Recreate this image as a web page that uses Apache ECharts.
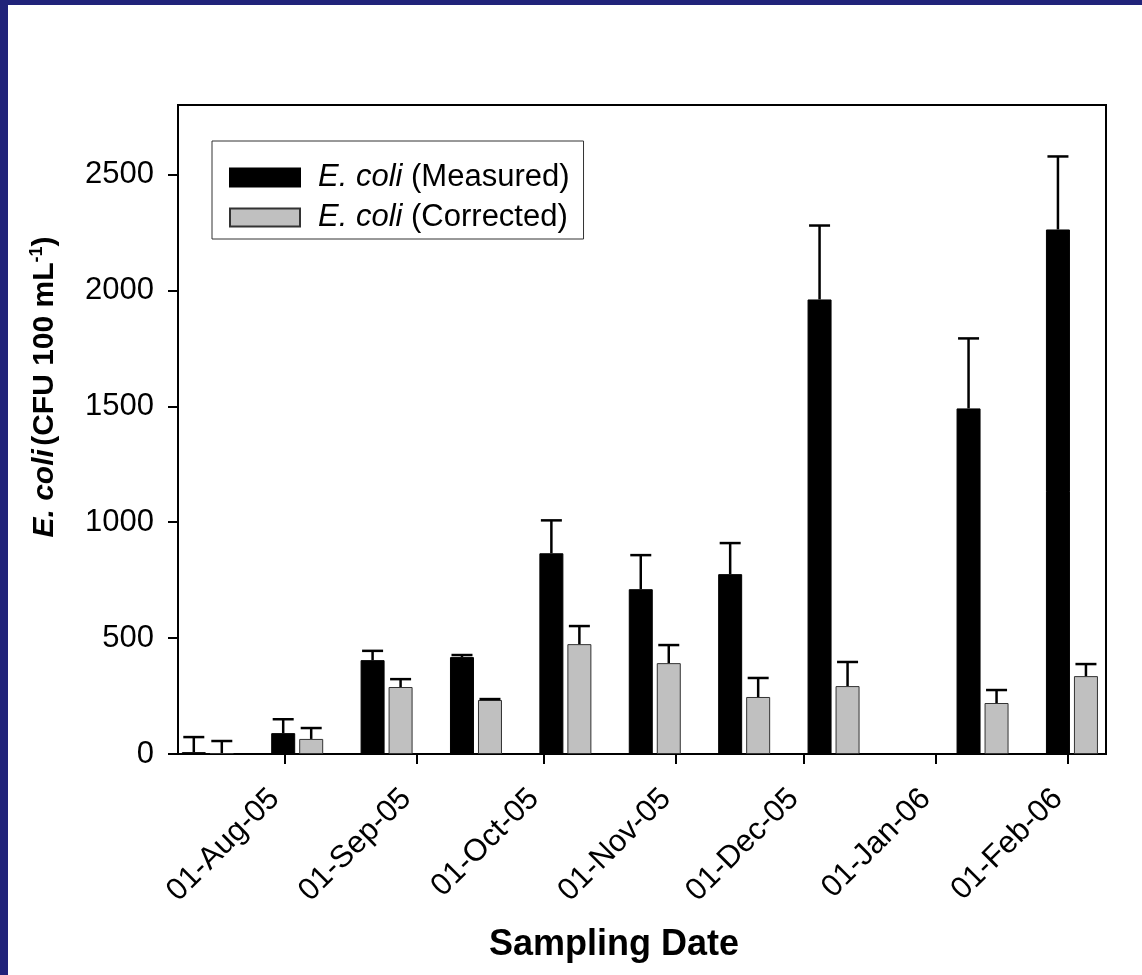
<!DOCTYPE html>
<html><head><meta charset="utf-8">
<script src="https://cdn.jsdelivr.net/npm/echarts@6/dist/echarts.min.js"></script>
<style>
html,body{margin:0;padding:0;background:#fff;}
#frame{position:absolute;left:0;top:0;width:1142px;height:975px;box-sizing:border-box;border-left:8px solid #21237a;border-top:5px solid #21237a;background:#fff;}
#chart{position:absolute;left:0;top:0;width:1142px;height:975px;}
</style></head><body>
<div id="frame"></div><div id="chart"></div>
<script>
// ---- data ----
const sampleDates = ['2005-07-14','2005-08-04','2005-08-25','2005-09-15','2005-10-06','2005-10-27','2005-11-17','2005-12-08','2006-01-12','2006-02-02'];
const measured     = [8, 90, 405, 418, 866, 711, 776, 1961, 1491, 2263];
const measuredErr  = [65, 60, 40, 9, 142, 147, 134, 319, 302, 315];
const corrected    = [4, 65, 289, 233, 474, 392, 246, 293, 220, 336];
const correctedErr = [52, 47, 34, 4, 78, 78, 82, 104, 56, 52];
const xTickDates  = ['2005-08-01','2005-09-01','2005-10-01','2005-11-01','2005-12-01','2006-01-01','2006-02-01'];
const xTickLabels = ['01-Aug-05','01-Sep-05','01-Oct-05','01-Nov-05','01-Dec-05','01-Jan-06','01-Feb-06'];
const yTicks = [0, 500, 1000, 1500, 2000, 2500];
const xMinDate = '2005-07-07', xMaxDate = '2006-02-10';

function ts(s){ const p = s.split('-').map(Number); return Date.UTC(p[0], p[1]-1, p[2]); }
const FONT = "'Liberation Sans', Arial, Helvetica, sans-serif";
const xTickTs = xTickDates.map(ts);
const BAR_W = 24, GAP = 4, OFF = (BAR_W + GAP) / 2;

function errRender(offsetPx){
  return function(params, api){
    const x = api.value(0), v = api.value(1), e = api.value(2);
    const p0 = api.coord([x, v]), p1 = api.coord([x, v + e]);
    const cx = p0[0] + offsetPx, cap = 21;
    const st = {stroke:'#000', lineWidth:2.5};
    return {type:'group', children:[
      {type:'line', shape:{x1:cx, y1:p0[1], x2:cx, y2:p1[1]}, style:st},
      {type:'line', shape:{x1:cx-cap/2, y1:p1[1], x2:cx+cap/2, y2:p1[1]}, style:st}
    ]};
  };
}

const chart = echarts.init(document.getElementById('chart'), null, {renderer:'canvas'});
chart.setOption({
  backgroundColor: 'transparent',
  animation: false,
  textStyle: {fontFamily: FONT, color:'#000'},
  grid: {left:178, right:36, top:105, bottom:221, show:true, borderColor:'#000', borderWidth:2, backgroundColor:'transparent', containLabel:false, outerBoundsMode:'none'},
  legend: {
    left: 212, top: 141, orient: 'vertical',
    padding: [21, 14, 6, 17], itemGap: 9, itemWidth: 70, itemHeight: 18,
    borderColor: '#333', borderWidth: 1, icon: 'rect',
    data: ['E. coli (Measured)', 'E. coli (Corrected)'],
    formatter: function(name){ return '{i|E. coli}{n|' + name.slice(7) + '}'; },
    textStyle: {fontFamily: FONT, fontSize: 31, color:'#000',
      rich: {i:{fontFamily: FONT, fontSize:31, fontStyle:'italic', lineHeight:30, padding:[0,0,0,13]}, n:{fontFamily: FONT, fontSize:31, lineHeight:30}}}
  },
  graphic: [{
    type:'text', x: 45, y: 387, rotation: Math.PI/2,
    style: {
      text: '{i|E. coli} {b|(CFU 100 mL}{s|-1}{b|)}',
      align:'center', verticalAlign:'middle',
      rich: {
        i:{fontFamily: FONT, fontSize:30, fontWeight:'bold', fontStyle:'italic', lineHeight:34, fill:'#000'},
        b:{fontFamily: FONT, fontSize:30, fontWeight:'bold', lineHeight:34, fill:'#000'},
        s:{fontFamily: FONT, fontSize:18, fontWeight:'bold', lineHeight:18, verticalAlign:'top', fill:'#000'}
      }
    }
  }],
  xAxis: {
    type:'value', min: ts(xMinDate), max: ts(xMaxDate), scale:true,
    name: 'Sampling Date', nameLocation:'middle', nameGap: 173,
    nameTextStyle: {fontFamily: FONT, fontSize:36, fontWeight:'bold', color:'#000', padding:[0,56,0,0]},
    axisLine: {show:true, onZero:false, lineStyle:{color:'#000', width:2}},
    axisTick: {show:true, customValues: xTickTs, length:10, lineStyle:{color:'#000', width:2}},
    axisLabel: {show:true, customValues: xTickTs, rotate:45, margin:30, padding:[0,14,0,0], fontFamily: FONT, fontSize:31, color:'#000',
      formatter: function(v){ const i = xTickTs.indexOf(+v); return i >= 0 ? xTickLabels[i] : ''; }},
    splitLine: {show:false}, minorTick:{show:false}
  },
  yAxis: {
    type:'value', min:0, max:2800,
    axisLine: {show:true, lineStyle:{color:'#000', width:2}},
    axisTick: {show:true, customValues: yTicks, length:10, lineStyle:{color:'#000', width:2}},
    axisLabel: {show:true, customValues: yTicks, margin:24, fontFamily: FONT, fontSize:31, color:'#000',
      formatter: function(v){ return String(v); }},
    splitLine: {show:false}
  },
  series: [
    {name:'E. coli (Measured)', type:'bar', barWidth: BAR_W, barGap: (GAP/BAR_W*100)+'%',
      itemStyle:{color:'#000', borderColor:'#000', borderWidth:1},
      data: sampleDates.map((d,i)=>[ts(d), measured[i]])},
    {name:'E. coli (Corrected)', type:'bar', barWidth: BAR_W, barGap: (GAP/BAR_W*100)+'%',
      itemStyle:{color:'#c0c0c0', borderColor:'#333', borderWidth:1},
      data: sampleDates.map((d,i)=>[ts(d), corrected[i]])},
    {name:'errM', type:'custom', renderItem: errRender(-OFF), z: 5,
      encode:{x:0, y:1}, data: sampleDates.map((d,i)=>[ts(d), measured[i], measuredErr[i]])},
    {name:'errC', type:'custom', renderItem: errRender(OFF), z: 5,
      encode:{x:0, y:1}, data: sampleDates.map((d,i)=>[ts(d), corrected[i], correctedErr[i]])}
  ]
});
</script>
</body></html>
